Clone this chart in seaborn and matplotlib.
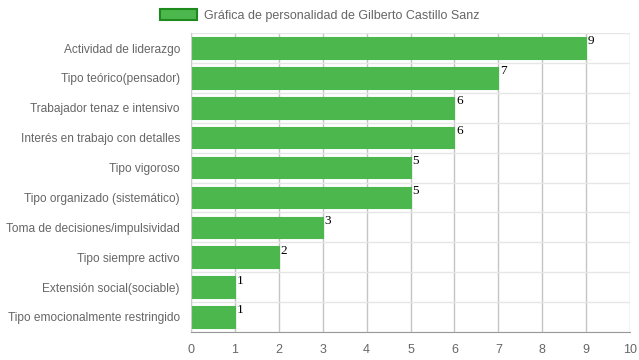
import pandas as pd
import seaborn as sns
import matplotlib.pyplot as plt
from matplotlib.patches import Patch

# data
categories = [
    "Actividad de liderazgo",
    "Tipo teórico(pensador)",
    "Trabajador tenaz e intensivo",
    "Interés en trabajo con detalles",
    "Tipo vigoroso",
    "Tipo organizado (sistemático)",
    "Toma de decisiones/impulsividad",
    "Tipo siempre activo",
    "Extensión social(sociable)",
    "Tipo emocionalmente restringido",
]
values = [9, 7, 6, 6, 5, 5, 3, 2, 1, 1]
series_name = "Gráfica de personalidad de Gilberto Castillo Sanz"

df = pd.DataFrame({"categoria": categories, "valor": values})

sns.set_style("white")
plt.rcParams["font.family"] = ["Liberation Sans", "DejaVu Sans"]

fig = plt.figure(figsize=(6.39, 3.6), dpi=100)
ax = fig.add_axes([0.299, 0.078, 0.687, 0.830])

sns.barplot(data=df, x="valor", y="categoria", orient="h", color="#4CB74C",
            saturation=1, width=0.72, edgecolor="#4CB74C", linewidth=0.8, ax=ax)

# value labels
for i, v in enumerate(values):
    ax.text(v + 0.04, i - 0.22, str(v), fontsize=9.5, family="Liberation Serif",
            color="black", ha="left", va="center")

ax.set_xlim(0, 10)
ax.set_xticks(range(0, 11))
ax.set_ylim(len(categories) - 0.5, -0.5)
ax.set_yticks([i + 0.5 for i in range(-1, len(categories))], minor=True)
ax.grid(axis="x", color="#c4c4c4", linewidth=1)
ax.grid(axis="y", which="minor", color="#e6e6e6", linewidth=1)
ax.set_axisbelow(True)
for s in ["top", "right"]:
    ax.spines[s].set_visible(False)
ax.spines["left"].set_color("#cccccc")
ax.spines["bottom"].set_color("#999999")
ax.tick_params(axis="x", colors="#666666", labelsize=9, length=6, width=1, pad=3)
ax.tick_params(axis="x", color="#c4c4c4")
ax.tick_params(axis="y", colors="#666666", labelsize=8.6, length=0, pad=8)
ax.tick_params(axis="y", which="minor", length=6, color="#e6e6e6")
ax.set_xlabel("")
ax.set_ylabel("")

handle = Patch(facecolor="#4CB74C", edgecolor="#1e8a1e", linewidth=1.5)
fig.legend([handle], [series_name], loc="upper center", bbox_to_anchor=(0.5, 1.005),
           frameon=False, fontsize=9, handlelength=3.0, handleheight=0.9,
           handletextpad=0.5, labelcolor="#666666")

fig.savefig("out.png", dpi=100)
